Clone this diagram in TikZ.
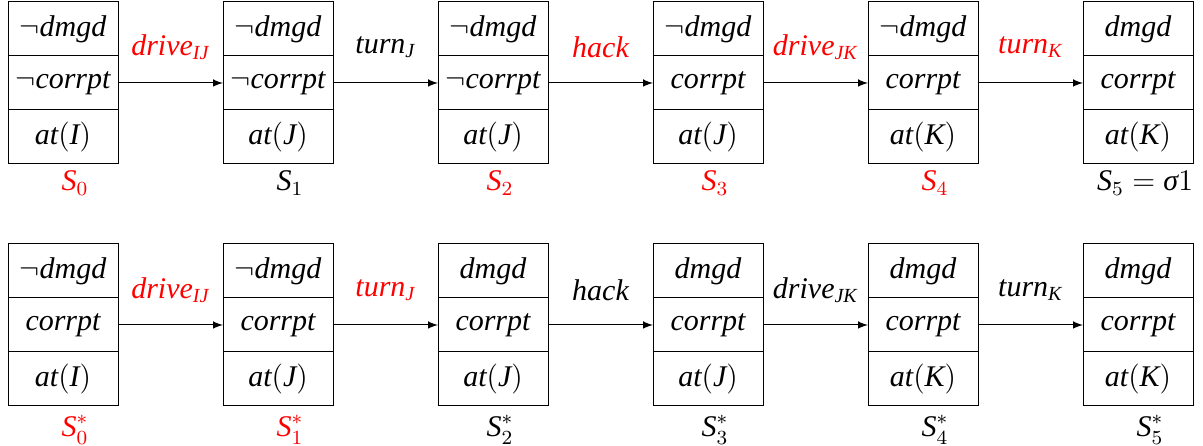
\documentclass[tikz,border=0pt]{standalone}
\usepackage{amsmath}
\usepackage{fontspec}
\setmainfont{Liberation Serif}
\begin{document}
\begin{tikzpicture}[x=4pt,y=4pt,
  cell/.style={draw, minimum width=44pt, minimum height=21.6pt, inner sep=0pt, outer sep=0pt, font=\fontsize{12}{14}\selectfont},
  lbl/.style={inner sep=0pt, font=\fontsize{12}{14}\selectfont}]
\useasboundingbox (0,0) rectangle (120.3,44.6);
\node[cell] (a0t) at (6.3,41.7){$\neg\textit{dmgd}$};
\node[cell] (a0m) at (6.3,36.3){$\neg\textit{corrpt}$};
\node[cell] (a0b) at (6.3,30.9){$\textit{at}(\textit{I})$};
\node[lbl, red] (la0) at (7.5,26.3){$\textit{S}_0$};
\node[cell] (a1t) at (27.8,41.7){$\neg\textit{dmgd}$};
\node[cell] (a1m) at (27.8,36.3){$\neg\textit{corrpt}$};
\node[cell] (a1b) at (27.8,30.9){$\textit{at}(\textit{J})$};
\node[lbl] (la1) at (29,26.3){$\textit{S}_1$};
\node[cell] (a2t) at (49.3,41.7){$\neg\textit{dmgd}$};
\node[cell] (a2m) at (49.3,36.3){$\neg\textit{corrpt}$};
\node[cell] (a2b) at (49.3,30.9){$\textit{at}(\textit{J})$};
\node[lbl, red] (la2) at (50,26.3){$\textit{S}_2$};
\node[cell] (a3t) at (70.8,41.7){$\neg\textit{dmgd}$};
\node[cell] (a3m) at (70.8,36.3){$\textit{corrpt}$};
\node[cell] (a3b) at (70.8,30.9){$\textit{at}(\textit{J})$};
\node[lbl, red] (la3) at (71.5,26.3){$\textit{S}_3$};
\node[cell] (a4t) at (92.3,41.7){$\neg\textit{dmgd}$};
\node[cell] (a4m) at (92.3,36.3){$\textit{corrpt}$};
\node[cell] (a4b) at (92.3,30.9){$\textit{at}(\textit{K})$};
\node[lbl, red] (la4) at (93.5,26.3){$\textit{S}_4$};
\node[cell] (a5t) at (113.8,41.7){$\textit{dmgd}$};
\node[cell] (a5m) at (113.8,36.3){$\textit{corrpt}$};
\node[cell] (a5b) at (113.8,30.9){$\textit{at}(\textit{K})$};
\node[lbl] (la5) at (114.5,26.3){$\textit{S}_5=\textit{σ}1$};
\node[lbl, red] (acta0) at (17.05,39.9){$\textit{drive}_{\textit{IJ}}$};
\node[lbl] (acta1) at (38.55,39.9){$\textit{turn}_{\textit{J}}$};
\node[lbl, red] (acta2) at (60.05,39.9){$\textit{hack}$};
\node[lbl, red] (acta3) at (81.55,39.9){$\textit{drive}_{\textit{JK}}$};
\node[lbl, red] (acta4) at (103.05,39.9){$\textit{turn}_{\textit{K}}$};
\draw[-latex] (a0m) -- (a1m);
\draw[-latex] (a1m) -- (a2m);
\draw[-latex] (a2m) -- (a3m);
\draw[-latex] (a3m) -- (a4m);
\draw[-latex] (a4m) -- (a5m);
\node[cell] (b0t) at (6.3,17.5){$\neg\textit{dmgd}$};
\node[cell] (b0m) at (6.3,12.1){$\textit{corrpt}$};
\node[cell] (b0b) at (6.3,6.7){$\textit{at}(\textit{I})$};
\node[lbl, red] (lb0) at (7.5,1.6){$\textit{S}^*_0$};
\node[cell] (b1t) at (27.8,17.5){$\neg\textit{dmgd}$};
\node[cell] (b1m) at (27.8,12.1){$\textit{corrpt}$};
\node[cell] (b1b) at (27.8,6.7){$\textit{at}(\textit{J})$};
\node[lbl, red] (lb1) at (29,1.6){$\textit{S}^*_1$};
\node[cell] (b2t) at (49.3,17.5){$\textit{dmgd}$};
\node[cell] (b2m) at (49.3,12.1){$\textit{corrpt}$};
\node[cell] (b2b) at (49.3,6.7){$\textit{at}(\textit{J})$};
\node[lbl] (lb2) at (50,1.6){$\textit{S}^*_2$};
\node[cell] (b3t) at (70.8,17.5){$\textit{dmgd}$};
\node[cell] (b3m) at (70.8,12.1){$\textit{corrpt}$};
\node[cell] (b3b) at (70.8,6.7){$\textit{at}(\textit{J})$};
\node[lbl] (lb3) at (71.5,1.6){$\textit{S}^*_3$};
\node[cell] (b4t) at (92.3,17.5){$\textit{dmgd}$};
\node[cell] (b4m) at (92.3,12.1){$\textit{corrpt}$};
\node[cell] (b4b) at (92.3,6.7){$\textit{at}(\textit{K})$};
\node[lbl] (lb4) at (93.5,1.6){$\textit{S}^*_4$};
\node[cell] (b5t) at (113.8,17.5){$\textit{dmgd}$};
\node[cell] (b5m) at (113.8,12.1){$\textit{corrpt}$};
\node[cell] (b5b) at (113.8,6.7){$\textit{at}(\textit{K})$};
\node[lbl] (lb5) at (115,1.6){$\textit{S}^*_5$};
\node[lbl, red] (actb0) at (17.05,15.6){$\textit{drive}_{\textit{IJ}}$};
\node[lbl, red] (actb1) at (38.55,15.6){$\textit{turn}_{\textit{J}}$};
\node[lbl] (actb2) at (60.05,15.6){$\textit{hack}$};
\node[lbl] (actb3) at (81.55,15.6){$\textit{drive}_{\textit{JK}}$};
\node[lbl] (actb4) at (103.05,15.6){$\textit{turn}_{\textit{K}}$};
\draw[-latex] (b0m) -- (b1m);
\draw[-latex] (b1m) -- (b2m);
\draw[-latex] (b2m) -- (b3m);
\draw[-latex] (b3m) -- (b4m);
\draw[-latex] (b4m) -- (b5m);
\end{tikzpicture}
\end{document}
